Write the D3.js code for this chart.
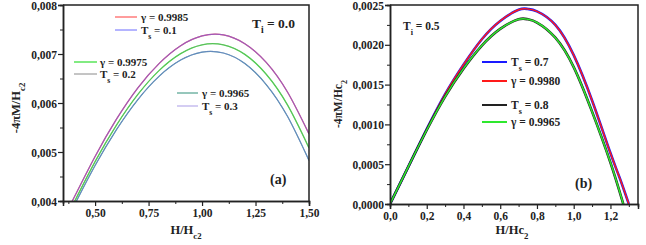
<!DOCTYPE html>
<html><head><meta charset="utf-8">
<script src="https://cdn.jsdelivr.net/npm/d3@7"></script>
<style>
body{margin:0;background:#fff;}
svg{display:block;font-family:"Liberation Serif","Times New Roman",serif;font-weight:bold;}
</style></head><body>
<svg id="c" width="646" height="245"></svg>
<script>
// ---------- Data: panel (a), T_i = 0.0 ----------
const aX1 = [0.39, 0.5, 0.6, 0.7, 0.8, 0.9, 1.0, 1.1, 1.2, 1.3, 1.4, 1.5];
const aTop = [0.00397, 0.00491, 0.00567, 0.00631, 0.00681, 0.00717, 0.00737, 0.00739, 0.00721, 0.00683, 0.00622, 0.00537]; // gamma 0.9985 / Ts 0.1
const aX2 = [0.40, 0.5, 0.6, 0.7, 0.8, 0.9, 1.0, 1.1, 1.2, 1.3, 1.4, 1.5];
const aMid = [0.003956, 0.004803, 0.005547, 0.006174, 0.006666, 0.007008, 0.007188, 0.007187, 0.006992, 0.006587, 0.005956, 0.005083]; // gamma 0.9975 / Ts 0.2
const aX3 = [0.41, 0.5, 0.6, 0.7, 0.8, 0.9, 1.0, 1.1, 1.2, 1.3, 1.4, 1.5];
const aBot = [0.003974, 0.004724, 0.005457, 0.006071, 0.006549, 0.006876, 0.007039, 0.00702, 0.006805, 0.006377, 0.005723, 0.004826]; // gamma 0.9965 / Ts 0.3
const aXTicks = [0.5, 0.75, 1.0, 1.25, 1.5];
const aYTicks = [0.004, 0.005, 0.006, 0.007, 0.008];

// ---------- Data: panel (b), T_i = 0.5 ----------
const bX1 = [0, 0.1, 0.2, 0.3, 0.4, 0.5, 0.6, 0.7, 0.75, 0.8, 0.9, 1.0, 1.1, 1.2, 1.25, 1.3];
const bTop = [0, 0.00047, 0.00094, 0.00138, 0.00175, 0.00207, 0.00230, 0.00244, 0.00245, 0.00242, 0.00225, 0.00187, 0.00130, 0.00064, 0.00033, 0]; // Ts 0.7 / gamma 0.9980
const bX2 = [0, 0.1, 0.2, 0.3, 0.4, 0.5, 0.6, 0.7, 0.75, 0.8, 0.9, 1.0, 1.1, 1.2, 1.27];
const bLow = [0, 0.00047, 0.00093, 0.00135, 0.00170, 0.00199, 0.00220, 0.00232, 0.00232, 0.00228, 0.00209, 0.00172, 0.00116, 0.00052, 0]; // Ts 0.8 / gamma 0.9965
const bXTicks = [0, 0.2, 0.4, 0.6, 0.8, 1.0, 1.2];
const bYTicks = [0, 0.0005, 0.001, 0.0015, 0.002, 0.0025];

const loc = d3.formatLocale({decimal: ",", thousands: ".", grouping: [3], currency: ["", ""]});

const svg = d3.select("#c");

function panel(o) {
  const g = svg.append("g");
  const x = d3.scaleLinear(o.xd, o.xr), y = d3.scaleLinear(o.yd, o.yr);
  const id = "clip" + o.name;
  svg.append("clipPath").attr("id", id).append("rect")
    .attr("x", o.xr[0]).attr("y", o.yr[1]).attr("width", o.xr[1] - o.xr[0]).attr("height", o.yr[0] - o.yr[1]);
  const cg = g.append("g").attr("clip-path", `url(#${id})`);
  o.series.forEach(s => {
    const line = d3.line().x((d, i) => x(s.x[i])).y(d => y(d)).curve(d3.curveNatural);
    cg.append("path").attr("d", line(s.y)).attr("fill", "none").attr("stroke", s.c)
      .attr("stroke-width", s.w).attr("stroke-opacity", s.op || 1);
  });
  const xa = d3.axisBottom(x).tickValues(o.xMinor).tickSize(3).tickFormat("");
  g.append("g").attr("transform", `translate(0,${o.yr[0]})`).call(xa);
  const ya = d3.axisLeft(y).tickValues(o.yMinor).tickSize(3).tickFormat("");
  g.append("g").attr("transform", `translate(${o.xr[0]},0)`).call(ya);
  const xb = d3.axisBottom(x).tickValues(o.xTicks).tickSize(5).tickPadding(3).tickFormat(loc.format(o.xf));
  const gx = g.append("g").attr("transform", `translate(0,${o.yr[0]})`).call(xb);
  const yb = d3.axisLeft(y).tickValues(o.yTicks).tickSize(5).tickPadding(1).tickFormat(loc.format(o.yf));
  const gy = g.append("g").attr("transform", `translate(${o.xr[0]},0)`).call(yb);
  [gx, gy].forEach(a => {
    a.selectAll("text").attr("font-size", 11.5).attr("font-family", "Liberation Serif").attr("font-weight", "bold").attr("fill", "#222");
    a.selectAll("line").attr("stroke", "#222").attr("stroke-width", 1.2);
  });
  gy.selectAll("text").attr("dy", "0.36em");
  g.selectAll(".domain").attr("stroke", "#222").attr("stroke-width", 1.5);
  g.selectAll(".tick line").attr("stroke", "#222");
  g.append("path").attr("d", `M${o.xr[0]},${o.yr[1]}H${o.xr[1]}V${o.yr[0]}`)
    .attr("fill", "none").attr("stroke", "#222").attr("stroke-width", 1.5);
  return {g, x, y};
}

// Panel (a)
const A = panel({
  name: "a", xd: [0.35, 1.5], xr: [63, 309], yd: [0.004, 0.008], yr: [201, 5],
  xTicks: aXTicks, yTicks: aYTicks, xf: ".2f", yf: ".3f",
  xMinor: [0.375, 0.625, 0.875, 1.125, 1.375], yMinor: [0.0045, 0.0055, 0.0065, 0.0075],
  series: [
    {x: aX3, y: aBot, c: "#3a7fa0", w: 1.2},
    {x: aX3, y: aBot, c: "#9a9ae0", w: 1.0, op: 0.5},
    {x: aX2, y: aMid, c: "#3ee03e", w: 1.3},
    {x: aX2, y: aMid, c: "#8a8a8a", w: 1, op: 0.45},
    {x: aX1, y: aTop, c: "#ff3b3b", w: 1.2},
    {x: aX1, y: aTop, c: "#6a6aff", w: 1.2, op: 0.65}
  ]
});

// Panel (b)
const B = panel({
  name: "b", xd: [0, 1.35], xr: [390, 638], yd: [0, 0.0025], yr: [204, 5],
  xTicks: bXTicks, yTicks: bYTicks, xf: ".1f", yf: ".4f",
  xMinor: [0.1, 0.3, 0.5, 0.7, 0.9, 1.1, 1.3], yMinor: [0.00025, 0.00075, 0.00125, 0.00175, 0.00225],
  series: [
    {x: bX1, y: bTop, c: "#1a1aff", w: 2.6},
    {x: bX1, y: bTop, c: "#ff1a1a", w: 1.5},
    {x: bX2, y: bLow, c: "#222", w: 2.6},
    {x: bX2, y: bLow, c: "#2ee82e", w: 1.5}
  ]
});

function label(g, x, y, parts, size, anchor, rot) {
  const t = g.append("text").attr("x", x).attr("y", y).attr("font-size", size)
    .attr("fill", "#222").attr("text-anchor", anchor || "start");
  if (rot) t.attr("transform", `rotate(${rot},${x},${y})`);
  parts.forEach(p => {
    const ts = t.append("tspan").text(p[0]);
    if (p[1]) ts.attr("baseline-shift", "sub").attr("font-size", size * 0.7);
  });
  return t;
}
function legendLine(g, x1, x2, y, c, w) {
  g.append("line").attr("x1", x1).attr("x2", x2).attr("y1", y).attr("y2", y).attr("stroke", c).attr("stroke-width", w);
}

// Panel (a) labels
label(A.g, 20, 108, [["-4πM/H"], ["c2", 1]], 12.5, "middle", -90);
label(A.g, 186, 234, [["H/H"], ["c2", 1]], 12.5, "middle");
label(A.g, 252, 28, [["T"], ["i", 1], [" = 0.0"]], 13.5);
label(A.g, 270, 184, [["(a)"]], 14);
legendLine(A.g, 115, 137, 17, "#ff3b3b", 1);
label(A.g, 141, 21, [["γ = 0.9985"]], 11);
legendLine(A.g, 115, 137, 30, "#6a6aff", 1);
label(A.g, 141, 34, [["T"], ["s", 1], [" = 0.1"]], 11);
legendLine(A.g, 74, 97, 62, "#3ee03e", 1.3);
label(A.g, 100, 66, [["γ = 0.9975"]], 11);
legendLine(A.g, 74, 97, 74, "#8a8a8a", 1);
label(A.g, 100, 78, [["T"], ["s", 1], [" = 0.2"]], 11);
legendLine(A.g, 177, 198, 93, "#2f8f78", 1);
label(A.g, 202, 97, [["γ = 0.9965"]], 11);
legendLine(A.g, 177, 198, 106, "#a99be6", 1);
label(A.g, 202, 110, [["T"], ["s", 1], [" = 0.3"]], 11);

// Panel (b) labels
label(B.g, 342, 104, [["-4πM/Hc"], ["2", 1]], 11.5, "middle", -90);
label(B.g, 512, 234, [["H/Hc"], ["2", 1]], 12.5, "middle");
label(B.g, 403, 30, [["T"], ["i", 1], [" = 0.5"]], 11.5);
label(B.g, 575, 188, [["(b)"]], 14);
legendLine(B.g, 482, 507, 62, "#1a1aff", 2);
label(B.g, 511, 66, [["T"], ["s", 1], [" = 0.7"]], 11.5);
legendLine(B.g, 482, 507, 81, "#ff1a1a", 2);
label(B.g, 511, 85, [["γ = 0.9980"]], 11.5);
legendLine(B.g, 482, 507, 105, "#222", 2);
label(B.g, 511, 109, [["T"], ["s", 1], [" = 0.8"]], 11.5);
legendLine(B.g, 482, 507, 122, "#2ee82e", 2);
label(B.g, 511, 126, [["γ = 0.9965"]], 11.5);
</script></body></html>
